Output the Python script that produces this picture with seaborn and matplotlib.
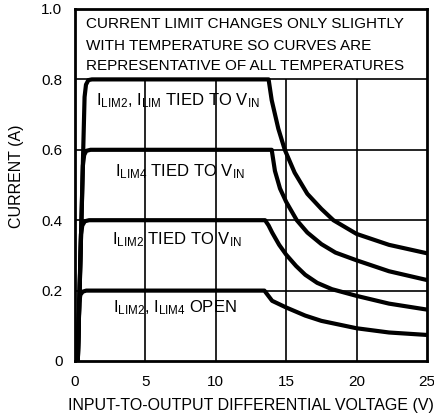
import matplotlib
matplotlib.use("Agg")
import matplotlib.pyplot as plt
import seaborn as sns
import pandas as pd

# ---- data ----
v_08 = [0.2, 0.68, 0.78, 0.95, 1.2, 13.75, 13.97, 14.44, 14.9, 15.6, 16.5, 17.5, 18.35, 20, 22.3, 25]
i_08 = [0, 0.75, 0.785, 0.798, 0.8, 0.8, 0.741, 0.66, 0.6, 0.535, 0.475, 0.432, 0.40, 0.361, 0.33, 0.306]

v_06 = [0.2, 0.56, 0.65, 0.8, 1.1, 13.97, 14.2, 14.56, 15.0, 15.75, 16.5, 17.5, 18.5, 20, 22.3, 25]
i_06 = [0, 0.555, 0.585, 0.597, 0.6, 0.6, 0.54, 0.49, 0.452, 0.40, 0.365, 0.332, 0.308, 0.286, 0.255, 0.23]

v_04 = [0.2, 0.42, 0.52, 0.7, 1.0, 13.5, 13.75, 14.0, 14.5, 15, 15.7, 16.35, 17.2, 18.25, 20, 22.3, 25]
i_04 = [0, 0.36, 0.385, 0.397, 0.4, 0.4, 0.385, 0.365, 0.33, 0.302, 0.27, 0.245, 0.222, 0.204, 0.185, 0.163, 0.146]

v_02 = [0.2, 0.3, 0.38, 0.55, 0.8, 13.45, 14.0, 15, 16.35, 17.5, 20, 22.3, 25]
i_02 = [0, 0.165, 0.188, 0.197, 0.2, 0.2, 0.171, 0.152, 0.129, 0.114, 0.093, 0.081, 0.074]

x_ticks = [0, 5, 10, 15, 20, 25]
y_ticks = [0, 0.2, 0.4, 0.6, 0.8, 1.0]
y_ticklabels = ["0", "0.2", "0.4", "0.6", "0.8", "1.0"]

curve_labels = [
    r"I$_{\mathrm{LIM2}}$, I$_{\mathrm{LIM}}$ TIED TO V$_{\mathrm{IN}}$",
    r"I$_{\mathrm{LIM4}}$ TIED TO V$_{\mathrm{IN}}$",
    r"I$_{\mathrm{LIM2}}$ TIED TO V$_{\mathrm{IN}}$",
    r"I$_{\mathrm{LIM2}}$, I$_{\mathrm{LIM4}}$ OPEN",
]
label_x = [7.28, 7.46, 7.25, 7.1]
label_y = [0.741, 0.538, 0.344, 0.151]

note_lines = [
    "CURRENT LIMIT CHANGES ONLY SLIGHTLY",
    "WITH TEMPERATURE SO CURVES ARE",
    "REPRESENTATIVE OF ALL TEMPERATURES",
]
note_y = [0.956, 0.896, 0.838]

xlabel = "INPUT-TO-OUTPUT DIFFERENTIAL VOLTAGE (V)"
ylabel = "CURRENT (A)"

# ---- build long-form table ----
frames = []
for name, v, i in [("c08", v_08, i_08), ("c06", v_06, i_06), ("c04", v_04, i_04), ("c02", v_02, i_02)]:
    frames.append(pd.DataFrame({"V": v, "I": i, "curve": name}))
df = pd.concat(frames, ignore_index=True)

sns.set_style("white")
plt.rcParams["font.family"] = ["Liberation Sans", "DejaVu Sans"]
plt.rcParams["mathtext.fontset"] = "custom"
plt.rcParams["mathtext.rm"] = "Liberation Sans"
plt.rcParams["mathtext.it"] = "Liberation Sans"
plt.rcParams["text.color"] = "black"
plt.rcParams["axes.labelcolor"] = "black"
plt.rcParams["xtick.color"] = "black"
plt.rcParams["ytick.color"] = "black"

fig = plt.figure(figsize=(4.34, 4.20), dpi=100)
ax = fig.add_axes([75 / 434, 1 - 361 / 420, 352 / 434, 352 / 420])

# grid (vertical lines only below the note box)
ax.hlines(y_ticks[1:-1], x_ticks[0], x_ticks[-1], color="black", lw=1.2, zorder=1)
ax.vlines(x_ticks[1:-1], 0, y_ticks[-2], color="black", lw=1.2, zorder=1)

sns.lineplot(data=df, x="V", y="I", units="curve", estimator=None, sort=False,
             color="black", lw=3.0, ax=ax, legend=False, zorder=3)

for s, x, y in zip(curve_labels, label_x, label_y):
    ax.text(x, y, s, ha="center", va="center", fontsize=12, color="black", zorder=4)

for s, y in zip(note_lines, note_y):
    ax.text(0.78, y, s, ha="left", va="center", fontsize=11, color="black", zorder=4)

ax.set_xlim(x_ticks[0], x_ticks[-1])
ax.set_ylim(y_ticks[0], y_ticks[-1])
ax.set_xticks(x_ticks)
ax.set_xticklabels([str(t) for t in x_ticks])
ax.set_yticks(y_ticks)
ax.set_yticklabels(y_ticklabels)
ax.tick_params(axis="both", length=0, labelsize=11, colors="black")
ax.tick_params(axis="x", pad=10)
ax.tick_params(axis="y", pad=9)

ax.set_xlabel(xlabel, fontsize=11.5, color="black")
ax.set_ylabel(ylabel, fontsize=11.5, color="black")
ax.xaxis.set_label_coords(0.501, -0.105)
ax.yaxis.set_label_coords(-0.145, 0.526)

for sp in ax.spines.values():
    sp.set_visible(True)
    sp.set_color("black")
    sp.set_linewidth(2)

fig.savefig("out.png", dpi=100)
